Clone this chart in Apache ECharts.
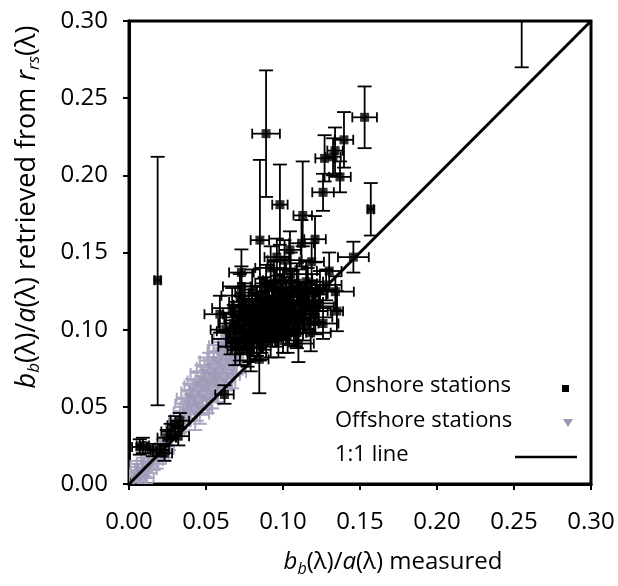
<!DOCTYPE html>
<html><head><meta charset="utf-8">
<script src="https://cdn.jsdelivr.net/npm/echarts@6/dist/echarts.min.js"></script>
<style>html,body{margin:0;padding:0;background:#fff}#c{width:618px;height:586px}</style>
</head><body><div id="c"></div>
<script>
// Axis ticks
var xTicks = [0, 0.05, 0.10, 0.15, 0.20, 0.25, 0.30];
var yTicks = [0, 0.05, 0.10, 0.15, 0.20, 0.25, 0.30];

// Onshore stations: measured (x), retrieved (y), x error, y error low, y error high
var onX    = [0.0186,0.089,0.153,0.1396,0.1338,0.127,0.1325,0.137,0.126,0.157,0.098,0.255,0.1128,0.085,0.1208,0.112,0.1045,0.073,0.059,0.1457,0.130,0.134,0.135,0.0846,0.128,0.109,0.096,0.1186,
  0.066,0.068,0.070,0.071,0.072,0.074,0.075,0.076,0.077,0.078,0.079,0.080,0.081,0.082,0.083,0.084,0.085,0.086,0.087,0.088,0.089,0.090,0.091,0.092,0.093,0.094,0.095,0.096,0.097,0.098,0.099,0.100,0.102,0.103,0.104,0.105,0.107,0.108,0.110,0.112,0.113,0.115,0.117,0.119,0.121,0.123,0.079,0.073,0.092,0.101,0.110,0.118,0.126,0.063,
  0.067,0.069,0.072,0.074,0.076,0.078,0.080,0.081,0.083,0.085,0.086,0.088,0.089,0.091,0.093,0.094,0.096,0.097,0.099,0.100,0.101,0.103,0.105,0.106,0.108,0.109,0.111,0.114,0.116,0.120,0.124,0.072,0.062,
  0.007,0.020,0.023,0.027,0.030,0.033,0.032,0.0245,0.0156,0.009];
var onY    = [0.132,0.227,0.2376,0.223,0.216,0.211,0.212,0.199,0.189,0.178,0.181,0.330,0.174,0.158,0.1586,0.156,0.1517,0.137,0.110,0.147,0.138,0.1246,0.112,0.0808,0.129,0.098,0.147,0.144,
  0.094,0.104,0.099,0.110,0.091,0.106,0.118,0.097,0.088,0.112,0.102,0.124,0.095,0.107,0.115,0.100,0.092,0.120,0.108,0.097,0.128,0.113,0.103,0.094,0.118,0.109,0.125,0.100,0.114,0.132,0.106,0.096,0.121,0.111,0.101,0.136,0.116,0.108,0.126,0.119,0.104,0.131,0.112,0.123,0.108,0.117,0.085,0.128,0.140,0.145,0.091,0.098,0.104,0.100,
  0.114,0.089,0.122,0.095,0.108,0.092,0.116,0.103,0.096,0.111,0.099,0.122,0.106,0.116,0.101,0.130,0.109,0.093,0.118,0.127,0.105,0.098,0.115,0.124,0.100,0.130,0.110,0.118,0.126,0.115,0.125,0.087,0.058,
  0.024,0.022,0.020,0.034,0.038,0.041,0.031,0.030,0.022,0.025];
var onXErr = [0.002,0.009,0.008,0.006,0.005,0.006,0.005,0.007,0.007,0.002,0.005,0.003,0.006,0.006,0.007,0.008,0.007,0.008,0.010,0.010,0.008,0.012,0.004,0.006,0.010,0.010,0.008,0.008,
  0.012,0.010,0.013,0.010,0.009,0.012,0.010,0.011,0.010,0.012,0.010,0.011,0.012,0.010,0.011,0.013,0.010,0.011,0.010,0.012,0.010,0.011,0.012,0.010,0.011,0.010,0.012,0.011,0.010,0.011,0.012,0.010,0.011,0.012,0.010,0.011,0.012,0.010,0.011,0.012,0.010,0.011,0.012,0.010,0.011,0.012,0.010,0.012,0.010,0.011,0.010,0.013,0.010,0.010,
  0.013,0.011,0.012,0.010,0.014,0.011,0.012,0.013,0.010,0.012,0.011,0.013,0.012,0.010,0.011,0.012,0.013,0.010,0.012,0.011,0.013,0.012,0.010,0.011,0.012,0.013,0.011,0.012,0.010,0.013,0.011,0.008,0.006,
  0.005,0.006,0.005,0.006,0.005,0.006,0.007,0.006,0.005,0.004];
var onYLo  = [0.081,0.041,0.020,0.018,0.015,0.015,0.012,0.010,0.012,0.017,0.026,0.060,0.020,0.030,0.015,0.015,0.012,0.015,0.012,0.010,0.012,0.012,0.013,0.022,0.010,0.010,0.012,0.012,
  0.010,0.012,0.010,0.012,0.011,0.013,0.012,0.010,0.012,0.014,0.011,0.015,0.010,0.012,0.013,0.011,0.012,0.013,0.012,0.010,0.014,0.012,0.011,0.012,0.013,0.012,0.014,0.011,0.012,0.015,0.012,0.011,0.013,0.012,0.011,0.014,0.012,0.011,0.013,0.012,0.011,0.014,0.012,0.013,0.011,0.012,0.012,0.013,0.014,0.013,0.012,0.012,0.010,0.011,
  0.013,0.012,0.014,0.011,0.012,0.013,0.012,0.011,0.013,0.012,0.014,0.012,0.011,0.013,0.012,0.014,0.012,0.011,0.013,0.012,0.011,0.013,0.012,0.014,0.011,0.013,0.012,0.012,0.014,0.012,0.013,0.010,0.006,
  0.005,0.004,0.005,0.005,0.006,0.005,0.006,0.005,0.004,0.005];
var onYHi  = [0.080,0.041,0.020,0.018,0.015,0.015,0.012,0.010,0.012,0.017,0.026,0.060,0.035,0.052,0.015,0.015,0.012,0.015,0.012,0.010,0.012,0.010,0.013,0.015,0.010,0.010,0.012,0.012,
  0.010,0.012,0.010,0.012,0.011,0.013,0.012,0.010,0.012,0.014,0.011,0.015,0.010,0.012,0.013,0.011,0.012,0.013,0.012,0.010,0.014,0.012,0.011,0.012,0.013,0.012,0.014,0.011,0.012,0.015,0.012,0.011,0.013,0.012,0.011,0.014,0.012,0.011,0.013,0.012,0.011,0.014,0.012,0.013,0.011,0.012,0.012,0.013,0.014,0.013,0.012,0.012,0.010,0.011,
  0.013,0.012,0.014,0.011,0.012,0.013,0.012,0.011,0.013,0.012,0.014,0.012,0.011,0.013,0.012,0.014,0.012,0.011,0.013,0.012,0.011,0.013,0.012,0.014,0.011,0.013,0.012,0.012,0.014,0.012,0.013,0.010,0.006,
  0.005,0.004,0.005,0.005,0.006,0.005,0.006,0.005,0.004,0.005];

// Offshore stations: measured (x), retrieved (y), x error, y error
var offX    = [0.004,0.006,0.008,0.010,0.012,0.009,0.014,0.016,0.013,0.018,0.005,0.011,0.020,0.022,0.026,
  0.036,0.038,0.040,0.042,0.044,0.045,0.047,0.048,0.050,0.050,0.052,0.053,0.054,0.055,0.056,0.057,0.058,0.059,0.060,0.061,0.062,0.063,0.064,0.065,0.066,0.067,0.068,0.069,0.070,0.043,0.046,0.041,0.039,0.049,0.052,0.058,
  0.030,0.033,0.035,0.060,0.062,0.055,0.064,0.068,0.047,0.044,0.051,0.057,0.024,0.017,0.007,0.003];
var offY    = [0.005,0.008,0.006,0.010,0.009,0.013,0.012,0.015,0.017,0.016,0.011,0.004,0.019,0.024,0.028,
  0.047,0.052,0.050,0.055,0.051,0.058,0.062,0.055,0.060,0.066,0.064,0.070,0.058,0.067,0.073,0.063,0.078,0.070,0.082,0.075,0.066,0.085,0.079,0.090,0.083,0.072,0.088,0.093,0.080,0.045,0.048,0.060,0.056,0.072,0.076,0.086,
  0.035,0.040,0.042,0.090,0.094,0.080,0.070,0.078,0.067,0.064,0.054,0.068,0.022,0.021,0.003,0.002];
var offXErr = [0.004,0.005,0.004,0.005,0.006,0.004,0.005,0.006,0.005,0.006,0.004,0.005,0.006,0.005,0.006,
  0.007,0.008,0.007,0.008,0.009,0.008,0.007,0.009,0.008,0.007,0.008,0.009,0.008,0.007,0.008,0.009,0.007,0.008,0.009,0.008,0.007,0.008,0.009,0.007,0.008,0.009,0.008,0.007,0.008,0.009,0.008,0.007,0.008,0.009,0.008,0.007,
  0.006,0.007,0.008,0.008,0.007,0.009,0.008,0.007,0.009,0.008,0.007,0.009,0.005,0.004,0.004,0.003];
var offYErr = [0.004,0.005,0.004,0.005,0.005,0.004,0.005,0.006,0.005,0.006,0.004,0.004,0.006,0.005,0.006,
  0.008,0.009,0.008,0.009,0.010,0.009,0.008,0.010,0.009,0.008,0.009,0.010,0.009,0.008,0.009,0.010,0.008,0.009,0.010,0.009,0.008,0.009,0.010,0.008,0.009,0.010,0.009,0.008,0.009,0.010,0.009,0.008,0.009,0.010,0.009,0.008,
  0.006,0.007,0.008,0.009,0.008,0.010,0.009,0.008,0.010,0.009,0.008,0.010,0.005,0.004,0.004,0.003];

// 1:1 line
var oneToOne = [0, 0.30];

var FONT = '"Open Sans", "Noto Sans", sans-serif';
var GRAY = '#9c99b5';
var GRAY_ERR = '#a9a7c0';

function errData(xs, ys, xe, ylo, yhi) {
  return xs.map(function (x, i) { return [x, ys[i], xe[i], ylo[i], yhi[i]]; });
}
function ptData(xs, ys) { return xs.map(function (x, i) { return [x, ys[i]]; }); }

function errRender(color, lw) {
  return function (params, api) {
    var x = api.value(0), y = api.value(1), xe = api.value(2), lo = api.value(3), hi = api.value(4);
    var t = api.coord([x, y + hi]);
    var b = api.coord([x, y - lo]);
    var l = api.coord([x - xe, y]);
    var r = api.coord([x + xe, y]);
    var cap = 7;
    var st = { stroke: color, lineWidth: lw };
    var lines = [
      [t[0], t[1], b[0], b[1]],
      [t[0] - cap, t[1], t[0] + cap, t[1]],
      [b[0] - cap, b[1], b[0] + cap, b[1]],
      [l[0], l[1], r[0], r[1]],
      [l[0], l[1] - 5, l[0], l[1] + 5],
      [r[0], r[1] - 5, r[0], r[1] + 5]
    ];
    return {
      type: 'group',
      children: lines.map(function (p) {
        return { type: 'line', shape: { x1: p[0], y1: p[1], x2: p[2], y2: p[3] }, style: st };
      })
    };
  };
}

var chart = echarts.init(document.getElementById('c'), null, { renderer: 'canvas' });
chart.setOption({
  animation: false,
  backgroundColor: '#fff',
  grid: { left: 129, right: 27, top: 21, bottom: 102, show: true, borderColor: '#000', borderWidth: 3, backgroundColor: 'transparent' },
  xAxis: {
    type: 'value', min: xTicks[0], max: xTicks[xTicks.length - 1], interval: 0.05,
    axisLine: { show: true, lineStyle: { color: '#000', width: 3 } },
    axisTick: { show: true, inside: false, length: 6, lineStyle: { color: '#000', width: 2 } },
    splitLine: { show: false },
    axisLabel: { margin: 26, color: '#000', fontSize: 24, fontFamily: FONT, formatter: function (v) { return v.toFixed(2); } }
  },
  yAxis: {
    type: 'value', min: yTicks[0], max: yTicks[yTicks.length - 1], interval: 0.05,
    axisLine: { show: true, lineStyle: { color: '#000', width: 3 } },
    axisTick: { show: true, inside: false, length: 6, lineStyle: { color: '#000', width: 2 } },
    splitLine: { show: false },
    axisLabel: { margin: 21, color: '#000', fontSize: 24, fontFamily: FONT, formatter: function (v) { return v.toFixed(2); } }
  },
  series: [
    { type: 'custom', name: 'offErr', clip: true, renderItem: errRender(GRAY_ERR, 2), data: errData(offX, offY, offXErr, offYErr, offYErr), encode: { x: 0, y: 1 }, z: 2 },
    { type: 'scatter', name: 'Offshore stations', clip: true, symbol: 'triangle', symbolRotate: 180, symbolSize: 8, itemStyle: { color: GRAY }, data: ptData(offX, offY), z: 3 },
    { type: 'custom', name: 'onErr', clip: true, renderItem: errRender('#000', 1.8), data: errData(onX, onY, onXErr, onYLo, onYHi), encode: { x: 0, y: 1 }, z: 4 },
    { type: 'scatter', name: 'Onshore stations', clip: true, symbol: 'rect', symbolSize: 9, itemStyle: { color: '#000' }, data: ptData(onX, onY), z: 5 },
    { type: 'line', name: '1:1 line', data: oneToOne.map(function (v) { return [v, v]; }), symbol: 'none', lineStyle: { color: '#000', width: 3 }, z: 6 }
  ],
  graphic: [
    { type: 'text', left: 335, top: 375, style: { text: 'Onshore stations', fontSize: 22, fontFamily: FONT, fill: '#000' } },
    { type: 'text', left: 335, top: 410, style: { text: 'Offshore stations', fontSize: 22, fontFamily: FONT, fill: '#000' } },
    { type: 'text', left: 335, top: 444, style: { text: '1:1 line', fontSize: 22, fontFamily: FONT, fill: '#000' } },
    { type: 'rect', shape: { x: 562, y: 385, width: 7, height: 7 }, style: { fill: '#000' } },
    { type: 'polygon', shape: { points: [[563, 419], [573, 419], [568, 427]] }, style: { fill: GRAY } },
    { type: 'line', shape: { x1: 515, y1: 457, x2: 577, y2: 457 }, style: { stroke: '#000', lineWidth: 2.5 } },
    {
      type: 'text', x: 27, y: 207, rotation: Math.PI / 2,
      style: {
        text: '{i|b}{s|b}{n|(λ)/}{i|a}{n|(λ) retrieved from }{i|r}{s|rs}{n|(λ)}',
        align: 'center', verticalAlign: 'middle', fill: '#000',
        rich: {
          n: { fontSize: 27, fontFamily: FONT, lineHeight: 32 },
          i: { fontStyle: 'italic', fontSize: 27, fontFamily: FONT, lineHeight: 32 },
          s: { fontStyle: 'italic', fontSize: 17, fontFamily: FONT, lineHeight: 32, padding: [15, 0, 0, 0] }
        }
      }
    },
    {
      type: 'text', x: 393, y: 562,
      style: {
        text: '{i|b}{s|b}{n|(λ)/}{i|a}{n|(λ) measured}',
        align: 'center', verticalAlign: 'middle', fill: '#000',
        rich: {
          n: { fontSize: 24, fontFamily: FONT, lineHeight: 30 },
          i: { fontStyle: 'italic', fontSize: 24, fontFamily: FONT, lineHeight: 30 },
          s: { fontStyle: 'italic', fontSize: 16, fontFamily: FONT, lineHeight: 30, padding: [14, 0, 0, 0] }
        }
      }
    }
  ]
});
</script>
</body></html>
